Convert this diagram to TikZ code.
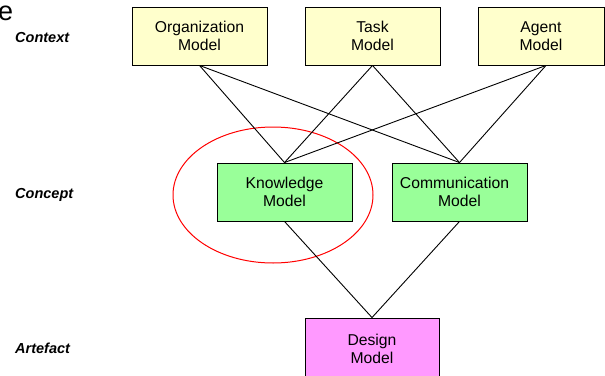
\documentclass[tikz,border=0pt]{standalone}
\usepackage{fontspec}
\setmainfont{Liberation Sans}
\definecolor{ctxfill}{HTML}{FFFFCC}
\definecolor{cptfill}{HTML}{99FF99}
\definecolor{artfill}{HTML}{FF99FF}
\begin{document}
\begin{tikzpicture}[x=1pt,y=-1pt,
  box/.style={draw=black, line width=0.9pt, minimum width=135pt, minimum height=58pt,
    inner sep=0pt, align=center, font=\fontsize{15.7}{18.5}\selectfont},
  ctx/.style={box, fill=ctxfill},
  cpt/.style={box, fill=cptfill},
  art/.style={box, fill=artfill, minimum width=134pt, minimum height=62pt},
  lvl/.style={anchor=base west, inner sep=0pt, font=\fontsize{14.5}{17}\selectfont\bfseries\itshape},
  link/.style={draw=black, line width=0.9pt}
]
\useasboundingbox (0,0) rectangle (605,375);
\clip (0,0) rectangle (605,375);

\node[anchor=base west, inner sep=0pt, font=\fontsize{27}{30}\selectfont] (frag) at (-2,20) {e};

\node[lvl] (lctx) at (15,42) {Context};
\node[lvl] (lcpt) at (15,198) {Concept};
\node[lvl] (lart) at (15,353) {Artefact};

\draw[red, line width=1pt] (273,195) ellipse [x radius=100pt, y radius=68pt];

\node[ctx] (org) at (199.5,36) {Organization\\Model};
\node[ctx] (task) at (372.5,36) {Task\\Model};
\node[ctx, minimum width=126pt] (agent) at (541,36) {Agent\\Model};
\coordinate (agentfoot) at ([xshift=5pt]agent.south);

\node[cpt] (know) at (284.5,192) {Knowledge\\Model};
\node[cpt] (comm) at (459.5,192) {Communication\hspace*{10pt}\\Model};

\node[art] (design) at (372,349) {Design\\Model};

\draw[link] (org.south) -- (know.north);
\draw[link] (org.south) -- (comm.north);
\draw[link] (task.south) -- (know.north);
\draw[link] (task.south) -- (comm.north);
\draw[link] (agentfoot) -- (know.north);
\draw[link] (agentfoot) -- (comm.north);
\draw[link] (know.south) -- (design.north);
\draw[link] (comm.south) -- (design.north);
\end{tikzpicture}
\end{document}
